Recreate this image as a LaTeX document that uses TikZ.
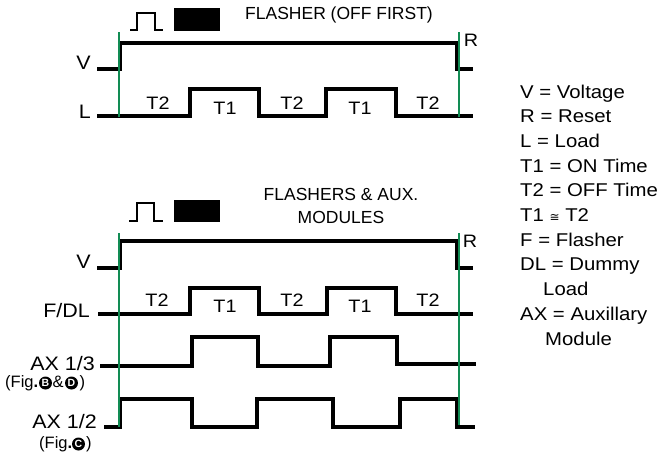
\documentclass[tikz,border=0pt]{standalone}
\usepackage{fontspec}
\setmainfont{Liberation Sans}
\newfontfamily\widefont{Liberation Sans}[FakeStretch=1.1]
\newfontfamily\dejavu{DejaVu Sans}
\definecolor{vgreen}{RGB}{18,140,84}
\tikzset{
 sig/.style={line width=3.5pt, line join=miter, line cap=butt},
 vmark/.style={line width=2pt, draw=vgreen},
 pulsesym/.style={line width=2pt, line join=miter},
 lab/.style={font=\widefont\fontsize{19.5}{22}\selectfont, inner sep=0pt, anchor=east},
 tlab/.style={font=\widefont\fontsize{18}{21}\selectfont, inner sep=0pt},
 rlab/.style={font=\widefont\fontsize{18}{21}\selectfont, inner sep=0pt},
 titletxt/.style={font=\fontsize{17.5}{23}\selectfont, inner sep=0pt, align=center},
 leg/.style={font=\widefont\fontsize{18.5}{22}\selectfont, inner sep=0pt, anchor=base west},
 figtxt/.style={font=\fontsize{16.5}{18}\selectfont, inner sep=0pt, anchor=base west},
 dotc/.style={circle, fill=black, inner sep=0pt, minimum size=13pt, text=white, font=\bfseries\fontsize{10.5}{11}\selectfont},
}
\begin{document}
\begin{tikzpicture}[x=1pt,y=-1pt]
\useasboundingbox (0,0) rectangle (670,453);

% ---------- top: flasher (off first) ----------
\draw[pulsesym] (130,30) -- (137,30) -- (137,13) -- (155,13) -- (155,30) -- (163,30);
\fill (174,8) rectangle (220,31);
\node[titletxt] (t1) at (339,15) {FLASHER (OFF FIRST)};

\node[lab] (v1) at (91,63) {V};
\node[lab] (l1) at (91,112) {L};
\node[rlab] (r1) at (471,40) {R};

\draw[sig] (97,69) -- (120,69) -- (120,43) -- (457,43) -- (457,69) -- (473,69);
\draw[sig] (97,116) -- (190,116) -- (190,89) -- (259,89) -- (259,116) -- (326,116)
  -- (326,89) -- (396,89) -- (396,116) -- (473,116);

\node[tlab] (a1) at (158,103.5) {T2};
\node[tlab] (a2) at (225,108.5) {T1};
\node[tlab] (a3) at (292,103.5) {T2};
\node[tlab] (a4) at (360,108.5) {T1};
\node[tlab] (a5) at (428,103.5) {T2};

\draw[vmark] (119,32) -- (119,117);
\draw[vmark] (459,32) -- (459,117);

% ---------- bottom: flashers & aux modules ----------
\draw[pulsesym] (129,221) -- (137,221) -- (137,203) -- (154,203) -- (154,221) -- (163,221);
\fill (174,200) rectangle (220,222);
\node[titletxt] (t2) at (341,205.5) {FLASHERS \& AUX.\\MODULES};

\node[lab] (v2) at (91,262) {V};
\node[lab] (fdl) at (90,311) {F/DL};
\node[lab] (ax13) at (95,364) {AX 1/3};
\node[lab] (ax12) at (97,422) {AX 1/2};
\node[rlab] (r2) at (470,241) {R};

\node[figtxt] (fb1) at (5,387.5) {(Fig\textbf{.}};
\node[dotc] (cb) at (45.5,383) {B};
\node[figtxt] (amp) at (52.5,387.5) {\&};
\node[dotc] (cd) at (71.5,383) {D};
\node[figtxt] (fb2) at (79.5,387.5) {)};

\node[figtxt] (fc1) at (39,448.5) {(Fig\textbf{.}};
\node[dotc] (cc) at (78.5,444) {C};
\node[figtxt] (fc2) at (86,448.5) {)};

\draw[sig] (97,268) -- (120,268) -- (120,241) -- (457,241) -- (457,268) -- (473,268);
\draw[sig] (98,314) -- (190,314) -- (190,288) -- (259,288) -- (259,314) -- (327,314)
  -- (327,288) -- (396,288) -- (396,314) -- (473,314);
\draw[sig] (100,366) -- (192,366) -- (192,337) -- (258,337) -- (258,366) -- (330,366)
  -- (330,337) -- (397,337) -- (397,364) -- (476,364);
\draw[sig] (104,427) -- (120,427) -- (120,399) -- (192,399) -- (192,427) -- (257,427)
  -- (257,399) -- (333,399) -- (333,427) -- (400,427) -- (400,399) -- (457,399)
  -- (457,427) -- (475,427);

\node[tlab] (b1) at (157,300) {T2};
\node[tlab] (b2) at (225,306) {T1};
\node[tlab] (b3) at (292,300) {T2};
\node[tlab] (b4) at (360,306) {T1};
\node[tlab] (b5) at (428,300) {T2};

\draw[vmark] (119,233) -- (119,427);
\draw[vmark] (459,233) -- (459,425);

% ---------- legend ----------
\node[leg] (g1) at (520,98) {V = Voltage};
\node[leg] (g2) at (520,122.7) {R = Reset};
\node[leg] (g3) at (520,147.4) {L = Load};
\node[leg] (g4) at (520,172.1) {T1 = ON Time};
\node[leg] (g5) at (520,196.8) {T2 = OFF Time};
\node[leg] (g6) at (520,221.5) {T1 {\dejavu\fontsize{12}{12}\selectfont ≅} T2};
\node[leg] (g7) at (520,246.2) {F = Flasher};
\node[leg] (g8) at (520,270.9) {DL = Dummy};
\node[leg] (g9) at (543,295.6) {Load};
\node[leg] (g10) at (520,320.3) {AX = Auxillary};
\node[leg] (g11) at (545,345) {Module};
\end{tikzpicture}
\end{document}
